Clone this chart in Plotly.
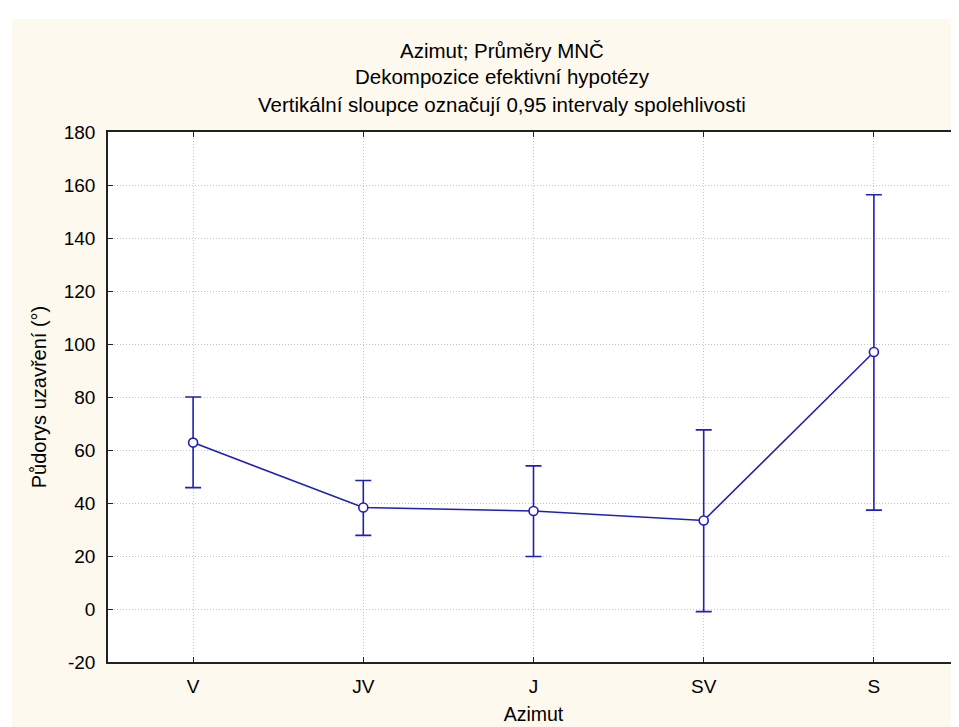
import plotly.graph_objects as go

categories = ["V", "JV", "J", "SV", "S"]
means = [62.8, 38.3, 37.0, 33.4, 97.0]
upper = [80.0, 48.5, 54.0, 67.6, 156.3]
lower = [45.8, 27.8, 19.8, -1.0, 37.3]
y_ticks = [-20, 0, 20, 40, 60, 80, 100, 120, 140, 160, 180]
y_ticktext = ["-20", "0", "20", "40", "60", "80", "100", "120", "140", "160", "180"]

title_lines = ["Azimut; Průměry MNČ",
               "Dekompozice efektivní hypotézy",
               "Vertikální sloupce označují 0,95 intervaly spolehlivosti"]

blue = "#2020b4"
font = "Liberation Sans, Arial, sans-serif"

err_plus = [u - m for u, m in zip(upper, means)]
err_minus = [m - l for m, l in zip(means, lower)]

fig = go.Figure()
fig.add_trace(go.Scatter(
    x=categories, y=means, mode="lines+markers",
    line=dict(color=blue, width=1.6),
    marker=dict(symbol="circle", size=9, color="white",
                line=dict(color=blue, width=1.6)),
    error_y=dict(type="data", symmetric=False, array=err_plus,
                 arrayminus=err_minus, color=blue, thickness=1.6, width=8),
    showlegend=False,
))

L, R, T, B = 100, 6, 124, 73
W, H = 959, 727
pw, ph = W - L - R, H - T - B

def py(y):
    return (H - B - y) / ph

def px(x):
    return (x - L) / pw

annotations = []
for txt, ypix in zip(title_lines, [43, 69, 96]):
    annotations.append(dict(text=txt, x=px(495), y=py(ypix), xref="paper", yref="paper",
                            xanchor="center", yanchor="middle", showarrow=False,
                            font=dict(family=font, size=20.5, color="black")))

fig.update_layout(
    width=W, height=H,
    margin=dict(l=L, r=R, t=T, b=B),
    paper_bgcolor="#fdf9ee",
    plot_bgcolor="white",
    annotations=annotations,
    shapes=[
        dict(type="rect", xref="paper", yref="paper", x0=px(0), x1=px(W),
             y0=py(11), y1=py(0), fillcolor="white", line=dict(width=0), layer="below"),
        dict(type="rect", xref="paper", yref="paper", x0=px(0), x1=px(4),
             y0=py(H), y1=py(0), fillcolor="white", line=dict(width=0), layer="below"),
    ],
    font=dict(family=font, size=19, color="black"),
)
fig.update_xaxes(
    range=[-0.5, 4.5], showline=True, linecolor="#222222", linewidth=1.6, mirror="ticks",
    ticks="inside", ticklen=5, tickcolor="#222222", tickwidth=1,
    showgrid=True, gridcolor="#c4c4c4", griddash="1px,2px", gridwidth=1,
    title=dict(text="Azimut", font=dict(family=font, size=19.5), standoff=12),
    tickfont=dict(family=font, size=19), zeroline=False, ticklabelstandoff=6,
)
fig.update_yaxes(
    range=[-20, 180], tickmode="array", tickvals=y_ticks, ticktext=y_ticktext,
    showline=True, linecolor="#222222", linewidth=1.6, mirror="ticks",
    ticks="inside", ticklen=5, tickcolor="#222222", tickwidth=1,
    showgrid=True, gridcolor="#c4c4c4", griddash="1px,2px", gridwidth=1,
    title=dict(text="Půdorys uzavření (°)", font=dict(family=font, size=20), standoff=12),
    tickfont=dict(family=font, size=19), zeroline=False, ticklabelstandoff=7,
)
fig.write_html("out.html")
